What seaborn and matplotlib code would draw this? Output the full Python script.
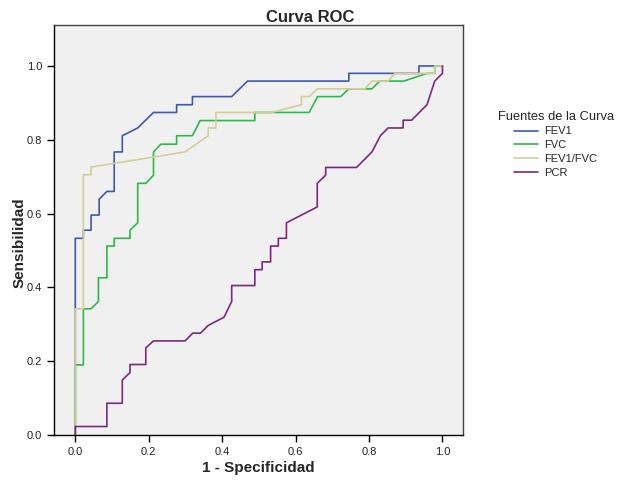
## ROC curves (SPSS style) ##

import matplotlib
matplotlib.use('Agg')
import matplotlib.pyplot as plt
import seaborn as sns
import pandas as pd


curve_names = ['FEV1', 'FVC', 'FEV1/FVC', 'PCR']
curve_colours = ['#3E58AC', '#2EB848', '#D3CE97', '#7C287D']

tick_values = [0.0, 0.2, 0.4, 0.6, 0.8, 1.0]
tick_labels = ['0.0', '0.2', '0.4', '0.6', '0.8', '1.0']

# points (1 - specificity, sensitivity)
fev1_x = [0, 0, 0.022, 0.022, 0.043, 0.043, 0.065, 0.065, 0.086, 0.106, 0.106, 0.128,
          0.128, 0.170, 0.213, 0.276, 0.276, 0.319, 0.319, 0.426, 0.469, 0.745, 0.745,
          0.936, 0.936, 1.0]
fev1_y = [0, 0.533, 0.533, 0.555, 0.555, 0.596, 0.596, 0.639, 0.660, 0.660, 0.767, 0.767,
          0.811, 0.832, 0.874, 0.874, 0.895, 0.895, 0.917, 0.917, 0.959, 0.959, 0.980,
          0.980, 1.0, 1.0]

fvc_x = [0, 0, 0.022, 0.022, 0.043, 0.063, 0.063, 0.086, 0.086, 0.106, 0.106, 0.149,
         0.149, 0.170, 0.170, 0.192, 0.213, 0.213, 0.233, 0.276, 0.276, 0.319, 0.340,
         0.489, 0.489, 0.637, 0.660, 0.723, 0.745, 0.808, 0.829, 0.895, 0.958, 0.979,
         0.979, 1.0]
fvc_y = [0, 0.190, 0.190, 0.342, 0.342, 0.362, 0.426, 0.426, 0.512, 0.512, 0.533, 0.533,
         0.555, 0.575, 0.682, 0.682, 0.704, 0.767, 0.788, 0.788, 0.811, 0.811, 0.852,
         0.852, 0.874, 0.874, 0.917, 0.917, 0.938, 0.938, 0.959, 0.959, 0.980, 0.980,
         1.0, 1.0]

ratio_x = [0, 0, 0.022, 0.022, 0.043, 0.043, 0.299, 0.362, 0.362, 0.383, 0.383, 0.535,
           0.616, 0.616, 0.637, 0.660, 0.789, 0.808, 0.852, 0.870, 0.979, 0.979, 1.0]
ratio_y = [0, 0.342, 0.342, 0.705, 0.705, 0.726, 0.767, 0.811, 0.832, 0.832, 0.874, 0.874,
           0.895, 0.917, 0.917, 0.938, 0.938, 0.959, 0.959, 0.980, 0.980, 1.0, 1.0]

pcr_x = [0, 0, 0.086, 0.086, 0.128, 0.128, 0.149, 0.149, 0.192, 0.192, 0.213, 0.299,
         0.320, 0.341, 0.362, 0.405, 0.426, 0.426, 0.489, 0.489, 0.509, 0.509, 0.532,
         0.532, 0.553, 0.553, 0.575, 0.575, 0.659, 0.659, 0.682, 0.682, 0.766, 0.808,
         0.831, 0.852, 0.893, 0.893, 0.916, 0.958, 0.979, 1.0, 1.0]
pcr_y = [0, 0.023, 0.023, 0.086, 0.086, 0.149, 0.169, 0.191, 0.191, 0.236, 0.255, 0.255,
         0.276, 0.276, 0.297, 0.319, 0.362, 0.405, 0.405, 0.448, 0.448, 0.469, 0.469,
         0.512, 0.512, 0.533, 0.533, 0.575, 0.618, 0.682, 0.704, 0.725, 0.725, 0.767,
         0.811, 0.832, 0.832, 0.853, 0.853, 0.895, 0.959, 0.980, 1.0]


sns.set_style('ticks', {'axes.facecolor': '#F0F0F0'})
plt.rcParams['font.family'] = ['Liberation Sans', 'DejaVu Sans']

frames = []
for name, xs, ys in zip(curve_names, [fev1_x, fvc_x, ratio_x, pcr_x],
                        [fev1_y, fvc_y, ratio_y, pcr_y]):
    frames.append(pd.DataFrame({'x': xs, 'y': ys, 'curva': name}))
roc = pd.concat(frames, ignore_index=True)

fig = plt.figure(figsize=(6.26, 4.83), dpi=100)
ax = fig.add_axes([54 / 626, 48 / 483, 409 / 626, 410 / 483])

sns.lineplot(data=roc, x='x', y='y', hue='curva', hue_order=curve_names,
             palette=curve_colours, sort=False, estimator=None, linewidth=1.2, ax=ax)

ax.set_xlim(-0.058, 1.056)
ax.set_ylim(0, 1.111)
ax.set_xticks(tick_values)
ax.set_xticklabels(tick_labels)
ax.set_yticks(tick_values)
ax.set_yticklabels(tick_labels)
ax.tick_params(labelsize=8, colors='black', labelcolor='#222222', length=5, width=1)

for side in ['left', 'bottom']:
    ax.spines[side].set_color('black')
    ax.spines[side].set_linewidth(1)
for side in ['top', 'right']:
    ax.spines[side].set_visible(True)
    ax.spines[side].set_color('#444444')
    ax.spines[side].set_linewidth(1)

ax.set_xlabel('1 - Specificidad', fontsize=11, fontweight='bold')
ax.set_ylabel('Sensibilidad', fontsize=11, fontweight='bold')
ax.xaxis.set_label_coords(0.5, -0.063)
ax.yaxis.set_label_coords(-0.066, 0.47)

fig.text(310 / 626, 1 - 18 / 483, 'Curva ROC', ha='center', va='center',
         fontsize=12, fontweight='bold')

sns.move_legend(ax, 'upper left', bbox_to_anchor=(1.071, 0.805), frameon=False,
                title='Fuentes de la Curva', title_fontsize=9.3, fontsize=8,
                handlelength=2.1, handletextpad=0.55, labelspacing=0.35, borderpad=0)

fig.savefig('out.png', dpi=100)
